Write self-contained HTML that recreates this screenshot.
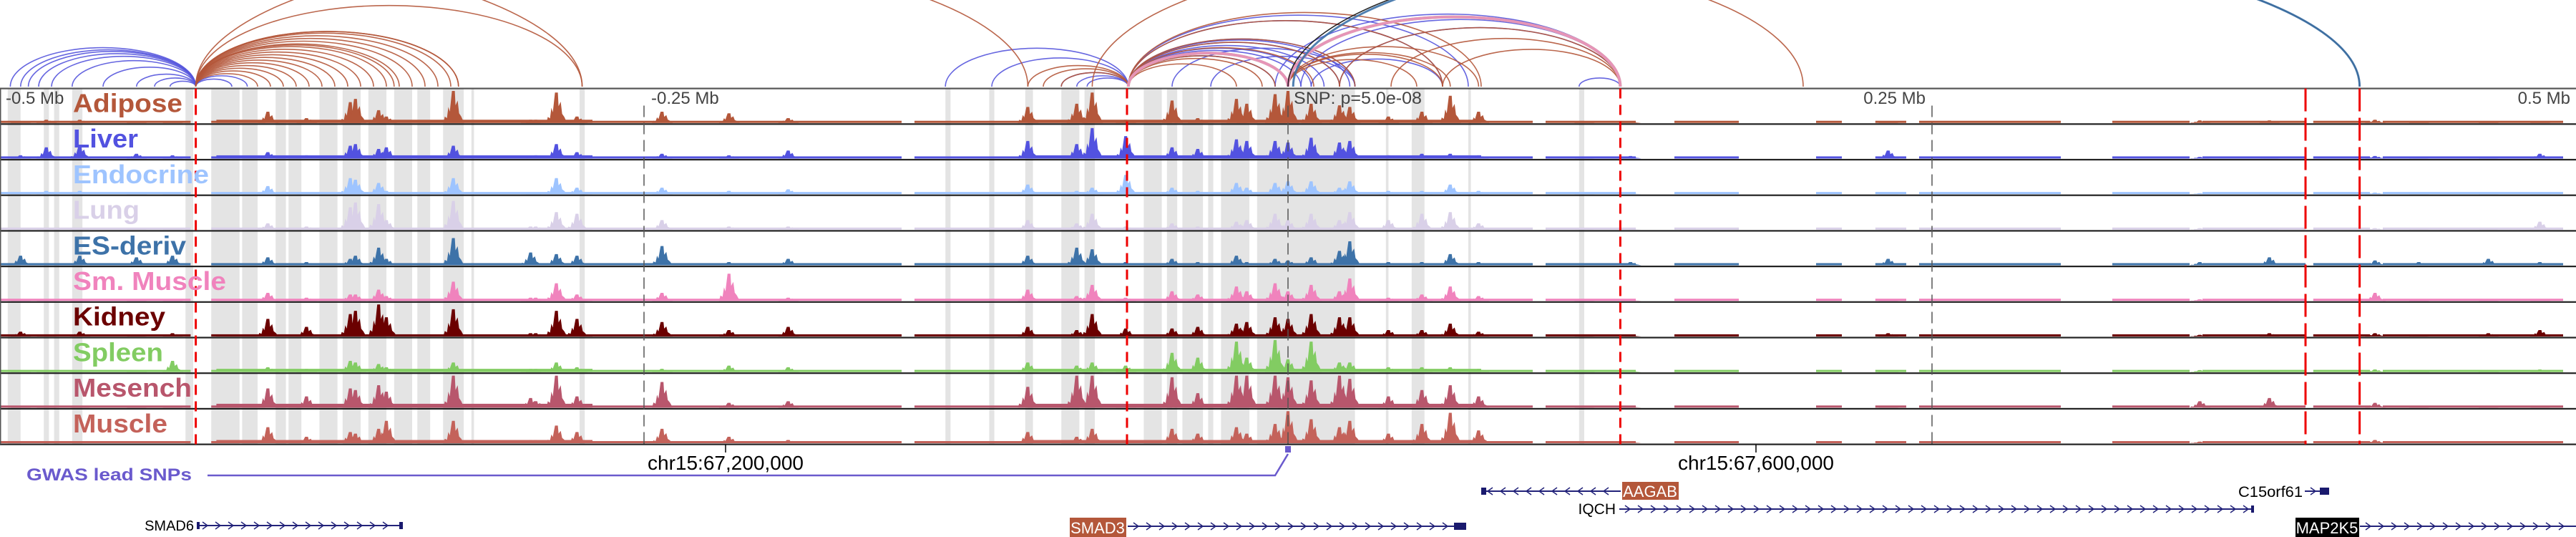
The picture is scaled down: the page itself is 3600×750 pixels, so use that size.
<!DOCTYPE html>
<html><head><meta charset="utf-8"><style>
html,body{margin:0;padding:0;background:#fff;width:3600px;height:750px;overflow:hidden}
svg{display:block;font-family:"Liberation Sans",sans-serif}
</style></head><body>
<svg id="chart" width="3600" height="750" viewBox="0 0 3600 750" xmlns="http://www.w3.org/2000/svg">
<g id="bands"></g>
<g id="arcs"></g>
<g id="tracks"></g>
<g id="overlay"></g>
<g id="labels"></g>
<g id="bottom"></g>
</svg>
<script>
// ---- data (genomic positions in kb relative to lead SNP) ----
const trackNames = ["Adipose","Liver","Endocrine","Lung","ES-deriv","Sm. Muscle","Kidney","Spleen","Mesench","Muscle"];
const trackColors = ["#b4573a","#5252e0","#9ec4ff","#d9d0e8","#3d72a8","#f083bd","#6b0000","#82cc62","#b8566c","#c4625a"];
const labelWidths = [153,91,190,93,158,214,129,126,166,132];
const peakKb = [-492,-482,-469,-447,-433,-396,-381,-364,-362,-353,-350,-324,-294,-292,-284,-276,-243,-217,-194,-101,-82,-76,-63,-45,-35,-20,-16,-5,0,9,20,24,39,52,63,74,115,133,233,354,381,422,439,466,486];
const adipose  = [.05,.1,.1,.05,.05,.35,.15,.65,.75,.4,.2,1,.1,.1,.95,.2,.35,.3,.15,.5,.6,.95,.1,.7,.15,.75,.6,.9,1,.6,.55,.5,.2,.35,.85,.35,.05,.05,.03,.08,.08,.1,.05,.05,.05];
const liver    = [.1,.35,.4,.15,.1,.2,.1,.4,.45,.3,.35,.4,.05,.1,.45,.2,.15,.1,.25,.55,.45,.95,.7,.35,.3,.6,.55,.55,.5,.65,.5,.55,.1,.15,.15,.1,.05,.08,.25,.05,.05,.08,.05,.05,.15];
const endocrine= [.05,.1,.1,.05,.05,.25,.05,.5,.45,.35,.1,.5,.05,.05,.5,.2,.2,.1,.15,.3,.1,.2,.6,.2,.1,.35,.2,.35,.4,.4,.2,.4,.1,.1,.3,.1,.03,.03,.03,.03,.05,.05,.03,.03,.05];
const lung     = [.05,.05,.05,.05,.05,.2,.1,.7,.85,.8,.3,.9,.1,.1,.55,.5,.3,.1,.1,.3,.2,.5,.1,.2,.1,.25,.3,.5,.3,.5,.3,.55,.3,.5,.55,.2,.03,.03,.05,.05,.05,.05,.03,.03,.25];
const esDeriv  = [.3,.05,.3,.25,.3,.25,.1,.2,.3,.55,.2,.85,.4,.1,.35,.3,.6,.1,.2,.3,.55,.5,.1,.2,.1,.3,.1,.2,.15,.25,.45,.75,.1,.1,.35,.1,.05,.1,.2,.1,.25,.15,.1,.2,.1];
const smMuscle = [.03,.03,.05,.05,.05,.25,.1,.2,.2,.35,.15,.6,.1,.1,.55,.2,.25,.85,.1,.35,.15,.5,.1,.3,.2,.45,.3,.55,.3,.5,.3,.7,.1,.2,.45,.15,.03,.03,.03,.05,.05,.25,.05,.03,.05];
const kidney   = [.15,.05,.15,.05,.1,.55,.3,.7,.8,1,.6,.85,.1,.1,.8,.55,.45,.2,.3,.3,.2,.7,.25,.25,.3,.4,.45,.6,.55,.7,.6,.6,.2,.2,.4,.15,.05,.05,.1,.05,.1,.1,.05,.1,.2];
const spleen   = [.06,.06,.06,.06,.35,.15,.1,.35,.3,.25,.15,.3,.1,.1,.3,.15,.1,.2,.15,.3,.2,.3,.2,.6,.45,.95,.45,1,.4,.95,.3,.3,.15,.15,.15,.1,.05,.05,.05,.06,.06,.08,.05,.05,.08];
const mesench  = [.05,.05,.05,.05,.05,.6,.35,.6,.55,.7,.5,1,.3,.2,1,.35,.8,.15,.2,.65,1,1,.1,.95,.45,1,1,1,.95,.85,1,.9,.35,.55,.7,.35,.05,.05,.05,.2,.3,.15,.05,.05,.05];
const muscle   = [.05,.05,.05,.05,.05,.5,.2,.35,.3,.45,.7,.7,.1,.1,.55,.35,.45,.2,.1,.35,.2,.45,.1,.45,.3,.5,.3,.6,1,.75,.5,.7,.3,.6,.95,.4,.05,.05,.05,.05,.05,.1,.05,.05,.05];
const trackValues = [adipose,liver,endocrine,lung,esDeriv,smMuscle,kidney,spleen,mesench,muscle];
const activeLevel = [.1,.1,.06,.06,.06,.06,.06,.1,.12,.1];
const activeSegs = [[-416,-270],[-101,75]];
const baselineSegs = [[-500,-426],[-418,-397],[-393,-150],[-145,-45],[-44,95],[100,135],[150,175],[205,215],[228,240],[245,300],[320,350],[355,395],[398,420],[425,495]];
const highlightBands = [[-497,-492],[-483,-481],[-479,-477],[-472,-468],[-428,-425],[-418,-407],[-406,-400],[-393,-389],[-388,-383],[-376,-369],[-367,-360],[-357,-350],[-347,-340],[-338,-333],[-328,-320],[-317,-316],[-275,-273],[-133,-131],[-116,-114],[-102,-99],[-88,-81],[-79,-75],[-56,-49],[-47,-43],[-41,-33],[-31,-29],[-26,-15],[-12,26],[38,39],[48,53],[70,71],[113,115]];
const redLinesKb = [-424,-62.5,129,395,416];
const axisTickLabels = ["-0.5 Mb","-0.25 Mb","0.25 Mb","0.5 Mb"];
const arcStartKb = [-496,-492,-489,-485,-480,-472,-460,-447,-440,-434,-424,-424,-133,-115,-88,-82,-78,-62,-62,-62,-62,-62,-62,-62,-62,-45,-30,-5,5,9,20,-62,-62,113,
 -424,-424,-424,-424,-424,-424,-424,-424,-424,-424,-424,-424,-424,-424,-424,-424,-424,-424,-424,-424,-640,-424,-101,-95,-88,-62,-62,-62,-62,-62,-62,-62,-62,-62,0,0,0,0,0,20,40,60,-76,
 -62,0,-62,0,0,2];
const arcEndKb   = [-424,-424,-424,-424,-424,-424,-424,-424,-424,-424,-410,-404,-62,-62,-62,-62,-62,-5,0,5,9,14,20,24,26,26,26,129,129,60,129,60,70,129,
 -400,-395,-390,-385,-380,-375,-370,-365,-360,-355,-350,-347,-345,-340,-335,-330,-325,-322,-322,-274,-274,-101,-62,-62,-62,-20,-10,-5,0,10,20,26,60,75,50,60,63,74,129,129,129,129,200,
 0,129,0,129,416,416];
const arcColors = [].concat(Array(34).fill("#5555dd"),Array(43).fill("#b4573a"),["#88cc66","#88cc66","#f08fc0","#f08fc0","#111111","#3d72a8"]);

// ---- scales ----
const X = kb => 1800 + kb*3.6;
const trackTop = 123.5, trackH = 49.7, nT = 10;
const NS="http://www.w3.org/2000/svg";
function mk(tag, attrs, parent){const e=document.createElementNS(NS,tag);for(const k in attrs)e.setAttribute(k,attrs[k]);parent.appendChild(e);return e;}
const gB=document.getElementById('bands'),gA=document.getElementById('arcs'),gT=document.getElementById('tracks'),gO=document.getElementById('overlay'),gL=document.getElementById('labels'),gBot=document.getElementById('bottom');
const tBottom = trackTop+nT*trackH;

highlightBands.forEach(b=>{
  const r=mk('rect',{x:X(b[0]),y:trackTop,width:Math.max(2,X(b[1])-X(b[0])),height:tBottom-trackTop,fill:'#e4e4e4'},gB);
  
  
});

const base=121;
arcStartKb.forEach((s,i)=>{
  const x1=X(s),x2=X(arcEndKb[i]);const span=x2-x1;const rx=span/2;
  const ry= span<800 ? 0.21*span : 168+(span-800)*0.057;
  const thick = (arcColors[i]==="#88cc66"||arcColors[i]==="#f08fc0")?4:(arcColors[i]==="#3d72a8"?3:1.6);
  const p=mk('path',{d:`M${x1},${base} A${rx},${ry} 0 0 1 ${x2},${base}`,fill:'none',stroke:arcColors[i],'stroke-width':thick,opacity:0.9},gA);
  
  
});
mk('rect',{x:0,y:122,width:3600,height:2,fill:'#fff'},gA);

trackValues.forEach((vals,t)=>{
  const bot=trackTop+(t+1)*trackH-1.5, maxH=trackH-5;
  const g=mk('g',{},gT);
  
  
  baselineSegs.forEach(s=>{mk('rect',{x:X(s[0]),y:bot-3,width:X(s[1])-X(s[0]),height:3,fill:trackColors[t]},g);});
  activeSegs.forEach(s=>{mk('rect',{x:X(s[0]),y:bot-activeLevel[t]*maxH,width:X(s[1])-X(s[0]),height:activeLevel[t]*maxH,fill:trackColors[t]},g);});
  vals.forEach((v,i)=>{
    const x=X(peakKb[i]),h=v*maxH;
    const pk=mk('polygon',{points:`${x-14},${bot} ${x-12},${bot-h*0.2} ${x-9},${bot-h*0.15} ${x-7},${bot-h*0.5} ${x-5},${bot-h*0.35} ${x-2},${bot-h} ${x+2},${bot-h} ${x+3},${bot-h*0.55} ${x+6},${bot-h*0.7} ${x+8},${bot-h*0.3} ${x+11},${bot-h*0.2} ${x+15},${bot}`,fill:trackColors[t]},g);
    
    
  });
});
for(let t=0;t<=nT;t++){mk('rect',{x:0,y:trackTop+t*trackH-1,width:3600,height:2.2,fill:t===0?'#555':'#222'},gO);}
mk('rect',{x:0,y:trackTop,width:1.5,height:tBottom-trackTop,fill:'#555'},gO);
[-250,0,250].forEach(k=>{const l=mk('line',{x1:X(k),y1:trackTop+24,x2:X(k),y2:tBottom,stroke:'#555','stroke-width':1.5,'stroke-dasharray':'16,8'},gO);
  });
redLinesKb.forEach((k,i)=>{const l=mk('line',{x1:X(k),y1:trackTop,x2:X(k),y2:tBottom,stroke:'#ee0000','stroke-width':3,'stroke-dasharray':i<3?'14,9':'32,9'},gO);
  });

const axisPos=[[8,'start'],[910,'start'],[2691,'end'],[3592,'end']];
axisTickLabels.forEach((s,i)=>{const t=mk('text',{x:axisPos[i][0],y:145,'font-size':24,fill:'#444','text-anchor':axisPos[i][1]},gL);t.textContent=s;
  });
const snp=mk('text',{x:1808,y:145,'font-size':24,fill:'#444',textLength:179,lengthAdjust:'spacingAndGlyphs'},gL);snp.textContent='SNP: p=5.0e-08';

trackNames.forEach((n,t)=>{const tx=mk('text',{x:102,y:trackTop+t*trackH+33,'font-size':36,'font-weight':'bold',fill:trackColors[t],textLength:labelWidths[t],lengthAdjust:'spacingAndGlyphs'},gL);tx.textContent=n;
  });

function txt(s,a,name){const t=mk('text',a,gBot);t.textContent=s;return t;}
mk('line',{x1:1014,y1:621,x2:1014,y2:632,stroke:'#000','stroke-width':1.5},gBot);
mk('line',{x1:2454,y1:621,x2:2454,y2:632,stroke:'#000','stroke-width':1.5},gBot);
txt('chr15:67,200,000',{x:1014,y:656,'font-size':28,'text-anchor':'middle',fill:'#000'},'coordinate-label');
txt('chr15:67,600,000',{x:2454,y:656,'font-size':28,'text-anchor':'middle',fill:'#000'},'coordinate-label');
txt('GWAS lead SNPs',{x:37,y:671,'font-size':24,'font-weight':'bold',fill:'#6a5acd',textLength:231,lengthAdjust:'spacingAndGlyphs'},'gwas-track-label');
mk('polyline',{points:'290,664 1782,664 1800,634',fill:'none',stroke:'#6a5acd','stroke-width':2.5},gBot);
mk('rect',{x:1796,y:623,width:8,height:9,fill:'#6a5acd'},gBot);

function gene(x1,x2,y,dir,name){
  const g=mk('g',{},gBot);
  mk('line',{x1:x1,y1:y,x2:x2,y2:y,stroke:'#23237a','stroke-width':2},g);
  for(let x=x1+12;x<x2-8;x+=18){const d=dir>0?`M${x-4},${y-5} L${x+3},${y} L${x-4},${y+5}`:`M${x+4},${y-5} L${x-3},${y} L${x+4},${y+5}`;mk('path',{d:d,fill:'none',stroke:'#23237a','stroke-width':1.5},g);}
  return g;
}
gene(275,562,734,1,'SMAD6');mk('rect',{x:275,y:729,width:4,height:10,fill:'#1a1a6e'},gBot);mk('rect',{x:558,y:729,width:5,height:10,fill:'#1a1a6e'},gBot);
txt('SMAD6',{x:271,y:741,'font-size':20,'text-anchor':'end',fill:'#000'},'gene-label');
gene(1576,2040,735,1,'SMAD3');mk('rect',{x:2032,y:730,width:17,height:10,fill:'#1a1a6e'},gBot);
mk('rect',{x:1495,y:723,width:79,height:27,fill:'#b4573a'},gBot);
txt('SMAD3',{x:1534,y:745,'font-size':22,'text-anchor':'middle',fill:'#fff'},'gene-label');
gene(2070,2265,686,-1,'AAGAB');mk('rect',{x:2070,y:681,width:7,height:10,fill:'#1a1a6e'},gBot);
mk('rect',{x:2267,y:673,width:79,height:25,fill:'#b4573a'},gBot);
txt('AAGAB',{x:2306,y:694,'font-size':22,'text-anchor':'middle',fill:'#fff'},'gene-label');
gene(2263,3150,711,1,'IQCH');mk('rect',{x:3146,y:706,width:4,height:10,fill:'#1a1a6e'},gBot);
txt('IQCH',{x:2258,y:718,'font-size':21,'text-anchor':'end',fill:'#000'},'gene-label');
gene(3221,3255,686,1,'C15orf61');mk('rect',{x:3242,y:681,width:13,height:10,fill:'#1a1a6e'},gBot);
txt('C15orf61',{x:3218,y:694,'font-size':21,'text-anchor':'end',fill:'#000',textLength:90,lengthAdjust:'spacingAndGlyphs'},'gene-label');
gene(3298,3600,735,1,'MAP2K5');
mk('rect',{x:3208,y:723,width:89,height:27,fill:'#000'},gBot);
txt('MAP2K5',{x:3252,y:745,'font-size':22,'text-anchor':'middle',fill:'#fff'},'gene-label');
</script>
</body></html>
